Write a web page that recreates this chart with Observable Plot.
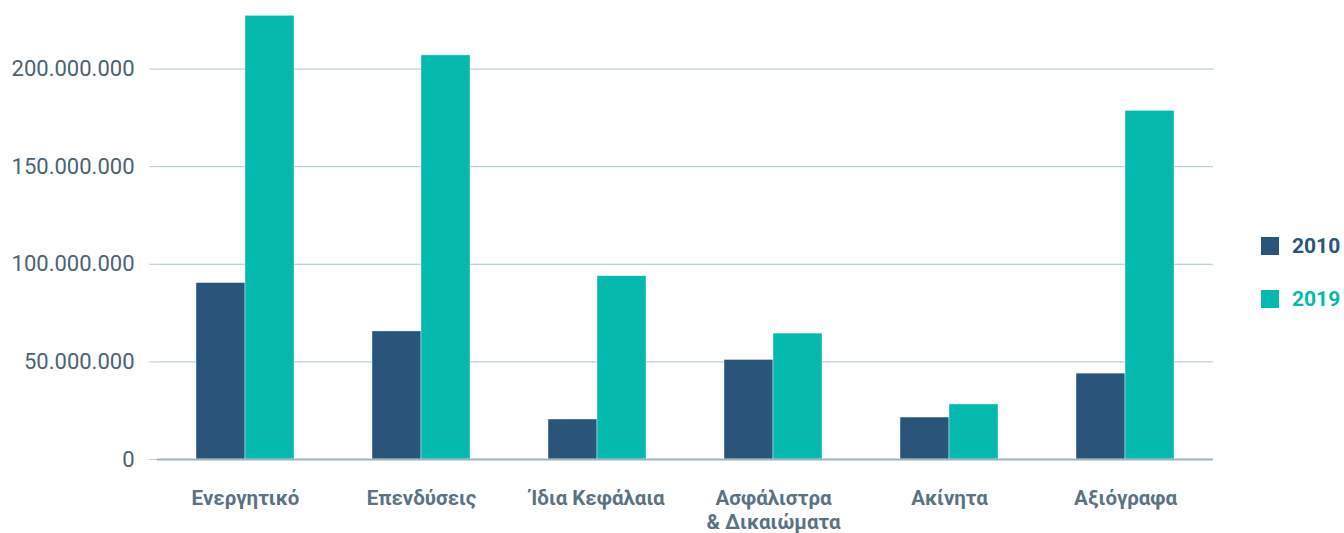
<!DOCTYPE html>
<html>
<head>
<meta charset="utf-8">
<script src="https://cdn.jsdelivr.net/npm/d3@7"></script>
<script src="https://cdn.jsdelivr.net/npm/@observablehq/plot@0.6"></script>
<style>
  html, body { margin: 0; padding: 0; background: #fff; }
  #wrap { position: relative; width: 1344px; height: 533px; overflow: hidden; font-family: Roboto, sans-serif; }
  #legend { position: absolute; left: 1261px; top: 234px; }
  .item { display: flex; align-items: center; height: 24px; margin-bottom: 29px; font-weight: 700; font-size: 21px; }
  .sw { width: 18px; height: 18px; margin-right: 13px; }
</style>
</head>
<body>
<div id="wrap"></div>
<script>
const categories = ["Ενεργητικό", "Επενδύσεις", "Ίδια Κεφάλαια", "Ασφάλιστρα & Δικαιώματα", "Ακίνητα", "Αξιόγραφα"];
const categoryLabels = ["Ενεργητικό", "Επενδύσεις", "Ίδια Κεφάλαια", "Ασφάλιστρα\n& Δικαιώματα", "Ακίνητα", "Αξιόγραφα"];
const years = ["2010", "2019"];
const values2010 = [90.4e6, 65.6e6, 20.5e6, 51.0e6, 21.5e6, 44.0e6];
const values2019 = [227.3e6, 207.0e6, 93.9e6, 64.5e6, 28.2e6, 178.6e6];
const yTicks = [0, 50e6, 100e6, 150e6, 200e6];
const colors = ["#29557b", "#04b9ad"];

const W = 1344, H = 533, mL = 155, mR = 130, mT = 10, mB = 74;
const step = (W - mL - mR) / categories.length;

const rows = [];
categories.forEach((c, i) => {
  rows.push({category: c, year: years[0], value: values2010[i]});
  rows.push({category: c, year: years[1], value: values2019[i]});
});
const labelOf = new Map(categories.map((c, i) => [c, categoryLabels[i]]));
const fmt = d3.formatLocale({thousands: ".", decimal: ",", grouping: [3], currency: ["", ""]}).format(",");

const chart = Plot.plot({
  width: W, height: H,
  marginLeft: mL, marginRight: mR, marginTop: mT, marginBottom: mB,
  style: {fontFamily: "Roboto, sans-serif", background: "transparent", overflow: "visible"},
  fx: {domain: categories, padding: 0, axis: null},
  x: {domain: years, paddingInner: 0, paddingOuter: 0.77, axis: null},
  y: {domain: [0, 230e6], axis: null},
  color: {domain: years, range: colors},
  marks: [
    Plot.gridY(yTicks.slice(1), {stroke: "#a9c6cf", strokeOpacity: 1, strokeWidth: 1}),
    Plot.axisY(yTicks, {tickSize: 8, tickPadding: 15, tickFormat: fmt, fontSize: 22, fill: "#4a6373", stroke: "#b7ccd3", strokeOpacity: 1, label: null}),
    Plot.barY(rows, {fx: "category", x: "year", y: "value", fill: "year", stroke: "#ffffff", strokeWidth: 0.6, strokeOpacity: 0.7}),
    Plot.ruleY([0], {stroke: "#9bb3be", strokeWidth: 2}),
    Plot.ruleX(categories.slice(1), {fx: d => d, y1: 0, y2: 0, insetBottom: -8, dx: -step / 2, stroke: "#a9c0c9", strokeWidth: 1.5}),
    Plot.axisFx({anchor: "bottom", tickSize: 0, tickPadding: 28, tickFormat: d => labelOf.get(d), fontSize: 20.5, fontWeight: 700, fill: "#5a7383", lineHeight: 1.17, label: null})
  ]
});
document.getElementById("wrap").appendChild(chart);

const legend = document.createElement("div");
legend.id = "legend";
years.forEach((y, i) => {
  const item = document.createElement("div");
  item.className = "item";
  item.style.color = colors[i];
  const sw = document.createElement("div");
  sw.className = "sw";
  sw.style.background = colors[i];
  item.appendChild(sw);
  item.appendChild(document.createTextNode(y));
  legend.appendChild(item);
});
document.getElementById("wrap").appendChild(legend);
</script>
</body>
</html>
